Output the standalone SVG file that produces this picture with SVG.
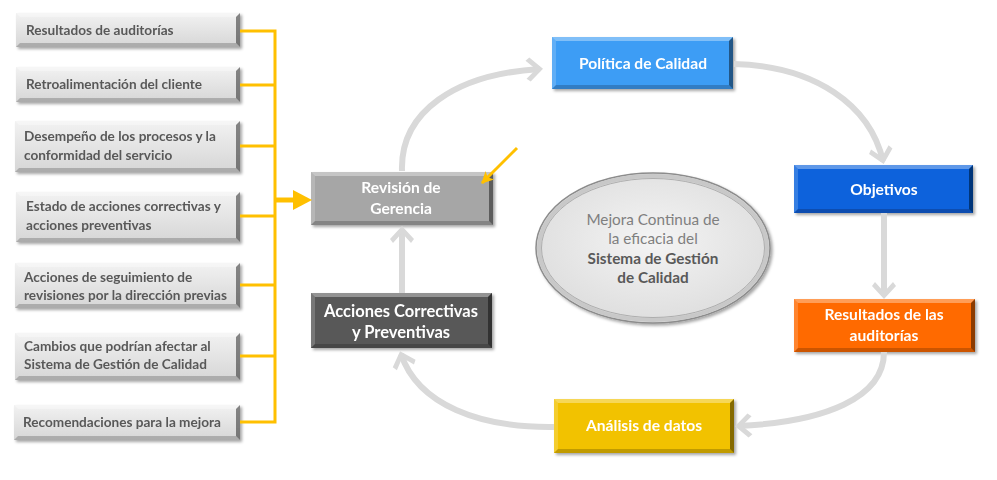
<svg xmlns="http://www.w3.org/2000/svg" width="997" height="480" viewBox="0 0 997 480">
<style>
.lt{font-family:Lato,"Liberation Sans",sans-serif;font-weight:bold;font-size:13.6px;fill:#595959}
.bt{font-family:Lato,"Liberation Sans",sans-serif;font-weight:bold;font-size:15.6px;fill:#ffffff;text-anchor:middle}
.et{font-family:Lato,"Liberation Sans",sans-serif;font-size:15.3px;fill:#7f7f7f;text-anchor:middle}
.eb{font-weight:bold;fill:#595959}
.hl{fill:#ffffff;opacity:0.35}
.hl2{fill:#ffffff;opacity:0.18}
.dk{fill:#000000;opacity:0.45}
.dk2{fill:#000000;opacity:0.2}
.gc{fill:none;stroke:#d9d9d9;stroke-width:6}
.yc{fill:none;stroke:#ffc000;stroke-width:3}
</style>
<defs>
<filter id="sh" x="-10%" y="-20%" width="125%" height="150%">
<feDropShadow dx="2" dy="2" stdDeviation="1.5" flood-color="#000" flood-opacity="0.35"/>
</filter>
<linearGradient id="lg" x1="0" y1="0" x2="0" y2="1">
<stop offset="0" stop-color="#f2f2f2"/>
<stop offset="1" stop-color="#d6d6d6"/>
</linearGradient>
<radialGradient id="eg" cx="0.5" cy="0.45" r="0.6">
<stop offset="0" stop-color="#f4f4f4"/>
<stop offset="1" stop-color="#dcdcdc"/>
</radialGradient>
<marker id="ga" markerUnits="userSpaceOnUse" viewBox="-18 -14 22 28" markerWidth="22" markerHeight="28" refX="0" refY="0" orient="auto">
<path d="M3,0 L-10,-12 L-14,-9 L-4,0 L-14,9 L-10,12 Z" fill="#d9d9d9"/>
</marker>
<marker id="ya" markerUnits="userSpaceOnUse" viewBox="-14 -8 16 16" markerWidth="16" markerHeight="16" refX="0" refY="0" orient="auto">
<path d="M1,0 L-11,-6 L-8,0 L-11,6 Z" fill="#ffc000"/>
</marker>
</defs>
<rect width="997" height="480" fill="#ffffff"/>

<g id="n1" filter="url(#sh)">
<rect x="16" y="13" width="224" height="34" fill="url(#lg)"/>
<polygon class="hl" points="16,13 240,13 236,17 20,17"/>
<polygon class="dk" points="240,13 240,47 236,43 236,17"/>
<polygon class="dk2" points="16,47 240,47 236,43 20,43"/>
<text class="lt" x="26" y="35">Resultados de auditorías</text>
</g>
<g id="n2" filter="url(#sh)">
<rect x="16" y="67" width="224" height="35" fill="url(#lg)"/>
<polygon class="hl" points="16,67 240,67 236,71 20,71"/>
<polygon class="dk" points="240,67 240,102 236,98 236,71"/>
<polygon class="dk2" points="16,102 240,102 236,98 20,98"/>
<text class="lt" x="26" y="89">Retroalimentación del cliente</text>
</g>
<g id="n3" filter="url(#sh)">
<rect x="15" y="121" width="225" height="51" fill="url(#lg)"/>
<polygon class="hl" points="15,121 240,121 236,125 19,125"/>
<polygon class="dk" points="240,121 240,172 236,168 236,125"/>
<polygon class="dk2" points="15,172 240,172 236,168 19,168"/>
<text class="lt" x="24" y="141">Desempeño de los procesos y la</text>
<text class="lt" x="24" y="160">conformidad del servicio</text>
</g>
<g id="n4" filter="url(#sh)">
<rect x="16" y="192" width="224" height="50" fill="url(#lg)"/>
<polygon class="hl" points="16,192 240,192 236,196 20,196"/>
<polygon class="dk" points="240,192 240,242 236,238 236,196"/>
<polygon class="dk2" points="16,242 240,242 236,238 20,238"/>
<text class="lt" x="26" y="211">Estado de acciones correctivas y</text>
<text class="lt" x="26" y="230">acciones preventivas</text>
</g>
<g id="n5" filter="url(#sh)">
<rect x="15" y="263" width="225" height="45" fill="url(#lg)"/>
<polygon class="hl" points="15,263 240,263 236,267 19,267"/>
<polygon class="dk" points="240,263 240,308 236,304 236,267"/>
<polygon class="dk2" points="15,308 240,308 236,304 19,304"/>
<text class="lt" x="24" y="282">Acciones de seguimiento de</text>
<text class="lt" x="24" y="300">revisiones por la dirección previas</text>
</g>
<g id="n6" filter="url(#sh)">
<rect x="15" y="333" width="225" height="47" fill="url(#lg)"/>
<polygon class="hl" points="15,333 240,333 236,337 19,337"/>
<polygon class="dk" points="240,333 240,380 236,376 236,337"/>
<polygon class="dk2" points="15,380 240,380 236,376 19,376"/>
<text class="lt" x="24" y="351">Cambios que podrían afectar al</text>
<text class="lt" x="24" y="369">Sistema de Gestión de Calidad</text>
</g>
<g id="n7" filter="url(#sh)">
<rect x="14" y="405" width="226" height="35" fill="url(#lg)"/>
<polygon class="hl" points="14,405 240,405 236,409 18,409"/>
<polygon class="dk" points="240,405 240,440 236,436 236,409"/>
<polygon class="dk2" points="14,440 240,440 236,436 18,436"/>
<text class="lt" x="23" y="427">Recomendaciones para la mejora</text>
</g>

<g id="revision" filter="url(#sh)">
<rect x="311" y="172" width="182" height="53" fill="#a6a6a6"/>
<polygon class="hl" points="311,172 493,172 489,176 315,176"/>
<polygon class="hl2" points="311,172 315,176 315,221 311,225"/>
<polygon class="dk" points="493,172 493,225 489,221 489,176"/>
<polygon class="dk2" points="311,225 493,225 489,221 315,221"/>
<text class="bt" x="401" y="193">Revisión de</text>
<text class="bt" x="401" y="214">Gerencia</text>
</g>

<g id="acciones" filter="url(#sh)">
<rect x="311" y="293" width="181" height="55" fill="#595959"/>
<polygon class="hl" points="311,293 492,293 488,297 315,297"/>
<polygon class="hl2" points="311,293 315,297 315,344 311,348"/>
<polygon class="dk" points="492,293 492,348 488,344 488,297"/>
<polygon class="dk2" points="311,348 492,348 488,344 315,344"/>
<text class="bt" x="401" y="317" style="font-size:16.5px">Acciones Correctivas</text>
<text class="bt" x="401" y="338" style="font-size:16.5px">y Preventivas</text>
</g>

<g id="politica" filter="url(#sh)">
<rect x="552" y="37" width="181" height="52" fill="#3d9df5"/>
<polygon class="hl" points="552,37 733,37 729,41 556,41"/>
<polygon class="hl2" points="552,37 556,41 556,85 552,89"/>
<polygon class="dk" points="733,37 733,89 729,85 729,41"/>
<polygon class="dk2" points="552,89 733,89 729,85 556,85"/>
<text class="bt" x="643" y="69">Política de Calidad</text>
</g>

<g id="objetivos" filter="url(#sh)">
<rect x="794" y="165" width="179" height="48" fill="#0a62dc"/>
<polygon class="hl" points="794,165 973,165 969,169 798,169"/>
<polygon class="hl2" points="794,165 798,169 798,209 794,213"/>
<polygon class="dk" points="973,165 973,213 969,209 969,169"/>
<polygon class="dk2" points="794,213 973,213 969,209 798,209"/>
<text class="bt" x="884" y="195">Objetivos</text>
</g>

<g id="resultados" filter="url(#sh)">
<rect x="794" y="299" width="181" height="53" fill="#ff6a00"/>
<polygon class="hl" points="794,299 975,299 971,303 798,303"/>
<polygon class="hl2" points="794,299 798,303 798,348 794,352"/>
<polygon class="dk" points="975,299 975,352 971,348 971,303"/>
<polygon class="dk2" points="794,352 975,352 971,348 798,348"/>
<text class="bt" x="884" y="320">Resultados de las</text>
<text class="bt" x="884" y="341">auditorías</text>
</g>

<g id="analisis" filter="url(#sh)">
<rect x="554" y="399" width="180" height="54" fill="#f2c200"/>
<polygon class="hl" points="554,399 734,399 730,403 558,403"/>
<polygon class="hl2" points="554,399 558,403 558,449 554,453"/>
<polygon class="dk" points="734,399 734,453 730,449 730,403"/>
<polygon class="dk2" points="554,453 734,453 730,449 558,449"/>
<text class="bt" x="644" y="431">Análisis de datos</text>
</g>

<g id="mejora">
<ellipse cx="653" cy="248" rx="117" ry="75" fill="url(#eg)" stroke="#8c8c8c" stroke-width="1.5" filter="url(#sh)"/>
<ellipse cx="653" cy="248" rx="114" ry="72" fill="none" stroke="#c8c8c8" stroke-width="4"/>
<ellipse cx="653" cy="248" rx="111.5" ry="69.5" fill="none" stroke="#a0a0a0" stroke-width="0.8"/>
<text class="et" x="653" y="225">Mejora Continua de</text>
<text class="et" x="653" y="244">la eficacia del</text>
<text class="et eb" x="653" y="264">Sistema de Gestión</text>
<text class="et eb" x="653" y="283">de Calidad</text>
</g>

<g id="connectors">
<path class="yc" d="M240,31 H275 M240,85 H275 M240,146 H275 M240,216 H275 M240,285 H275 M240,356 H275 M240,422 H275 M275,29.5 V423.5"/>
<path d="M275,200 H296" fill="none" stroke="#ffc000" stroke-width="5"/>
<polygon points="293,190 312,200 293,210" fill="#ffc000"/>
<path class="yc" d="M517,148 L482,183" marker-end="url(#ya)"/>
<path class="gc" d="M402,171 C400,112 455,74 540,69" marker-end="url(#ga)"/>
<path class="gc" d="M734,64 C815,66 870,105 883,161" marker-end="url(#ga)"/>
<path class="gc" d="M884,213 L884,296" marker-end="url(#ga)"/>
<path class="gc" d="M884,352 C884,398 825,422 738,426" marker-end="url(#ga)"/>
<path class="gc" d="M554,427 C480,428 418,405 401,354" marker-end="url(#ga)"/>
<path class="gc" d="M402,293 L402,229" marker-end="url(#ga)"/>
</g>
</svg>
